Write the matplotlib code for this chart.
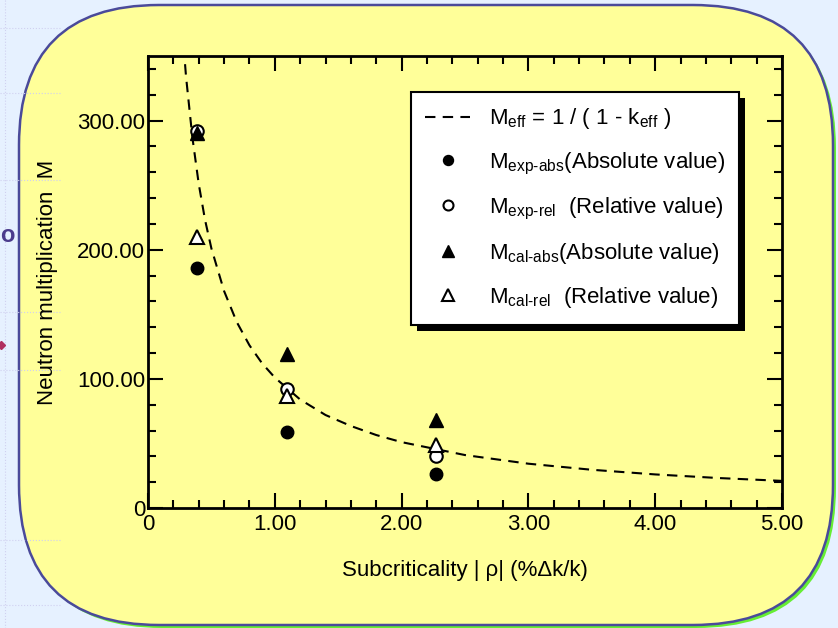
import matplotlib
matplotlib.use("Agg")
import matplotlib.pyplot as plt
from matplotlib.patches import FancyBboxPatch, Rectangle
from matplotlib.ticker import MultipleLocator, FuncFormatter

plt.rcParams['font.family'] = ['Liberation Sans', 'DejaVu Sans']
plt.rcParams['mathtext.fontset'] = 'custom'
plt.rcParams['mathtext.rm'] = 'Liberation Sans'
plt.rcParams['mathtext.it'] = 'Liberation Sans'

# measured points (subcriticality |rho| in %dk/k, multiplication M)
rho_pts = [0.39, 1.10, 2.27]
m_exp_abs = [186, 59, 26]
m_exp_rel = [292, 92, 40]
m_cal_abs = [290, 119, 68]
m_cal_rel = [210, 87, 49]

# dashed curve M = 1/(1-keff)
curve_rho = [0.27, 0.30, 0.35, 0.40, 0.45, 0.50, 0.60, 0.70, 0.80, 0.90, 1.00,
             1.20, 1.40, 1.60, 1.80, 2.00, 2.50, 3.00, 3.50, 4.00, 4.50, 5.00]
curve_m = [371, 334, 287, 251, 223, 201, 168, 144, 126, 112, 101,
           84, 72, 63.5, 56.5, 51, 41, 34.3, 29.6, 26, 23.2, 21]

labels = [r'$\mathrm{M}_{\mathrm{eff}}$ = 1 / ( 1 - $\mathrm{k}_{\mathrm{eff}}$ )',
          r'$\mathrm{M}_{\mathrm{exp‐abs}}$(Absolute value)',
          r'$\mathrm{M}_{\mathrm{exp‐rel}}$  (Relative value)',
          r'$\mathrm{M}_{\mathrm{cal‐abs}}$(Absolute value)',
          r'$\mathrm{M}_{\mathrm{cal‐rel}}$  (Relative value)']

W, H = 838, 628
fig = plt.figure(figsize=(W / 100, H / 100), dpi=100)
fig.patch.set_facecolor('#e6f1ff')

# slide background + rounded yellow panel
bg = fig.add_axes([0, 0, 1, 1])
bg.set_xlim(0, W)
bg.set_ylim(H, 0)
bg.axis('off')
for yy in [28, 93, 180, 312, 370, 540, 605]:
    bg.plot([0, 60], [yy, yy], color='#d0d0f0', lw=0.8, ls=':')
bg.plot([5, 5], [0, H], color='#d0d0f0', lw=0.8, ls=':')
shadow_box = FancyBboxPatch((22, 8), 814, 620, boxstyle="round,pad=0,rounding_size=140",
                            facecolor='#66ee33', edgecolor='none')
bg.add_patch(shadow_box)
box = FancyBboxPatch((19, 5), 814, 620, boxstyle="round,pad=0,rounding_size=140",
                     facecolor='#ffff99', edgecolor='#4a4a9a', lw=1.8)
bg.add_patch(box)
bg.text(0, 236, 'o', color='#4b3c8c', fontsize=17, fontweight='bold', va='center', ha='left')
bg.plot([1], [345], marker='D', color='#b03060', ms=4)

# main plot
ax = fig.add_axes([148 / W, 1 - 508 / H, (782 - 148) / W, (508 - 56) / H])
ax.set_facecolor('none')
ax.plot(curve_rho, curve_m, color='black', ls=(0, (5, 3.5)), lw=1.5, label=labels[0])
ax.plot(rho_pts, m_exp_abs, 'o', color='black', ms=9, label=labels[1])
ax.plot(rho_pts, m_exp_rel, 'o', mfc='white', mec='black', mew=1.5, ms=9, label=labels[2])
ax.plot(rho_pts, m_cal_abs, '^', color='black', ms=10, label=labels[3])
ax.plot(rho_pts, m_cal_rel, '^', mfc='white', mec='black', mew=1.5, ms=10, label=labels[4])

ax.set_xlim(0, 5)
ax.set_ylim(0, 350)
ax.xaxis.set_major_locator(MultipleLocator(1))
ax.xaxis.set_minor_locator(MultipleLocator(0.2))
ax.yaxis.set_major_locator(MultipleLocator(100))
ax.yaxis.set_minor_locator(MultipleLocator(20))
fmt = FuncFormatter(lambda v, p: '0' if v == 0 else '%.2f' % v)
ax.xaxis.set_major_formatter(fmt)
ax.yaxis.set_major_formatter(fmt)
ax.tick_params(which='both', direction='in', top=True, right=True, width=1.5, labelsize=16)
ax.tick_params(which='major', length=11)
ax.tick_params(which='minor', length=6)
ax.tick_params(axis='x', pad=4)
ax.tick_params(axis='y', pad=2)
for s in ax.spines.values():
    s.set_linewidth(2)

ax.set_xlabel('Subcriticality | ρ| (%Δk/k)', fontsize=16, labelpad=18)
ax.set_ylabel('Neutron multiplication  M', fontsize=16, labelpad=14)

leg = ax.legend(loc='upper left', bbox_to_anchor=(411 / W, 1 - 92 / H), bbox_transform=fig.transFigure,
                fontsize=16, frameon=True, fancybox=False, edgecolor='black', framealpha=1,
                handlelength=2.0, handletextpad=0.85, labelspacing=0.86, borderpad=0.65,
                borderaxespad=0, markerscale=0.8)
leg.get_frame().set_linewidth(1.5)

# black drop shadow behind legend
fig.canvas.draw()
bb = leg.get_window_extent()
bg.add_patch(Rectangle((bb.x0 + 6, H - bb.y1 + 6), bb.width, bb.height,
                       facecolor='black', edgecolor='none'))

fig.savefig('out.png', dpi=100, facecolor=fig.get_facecolor())
